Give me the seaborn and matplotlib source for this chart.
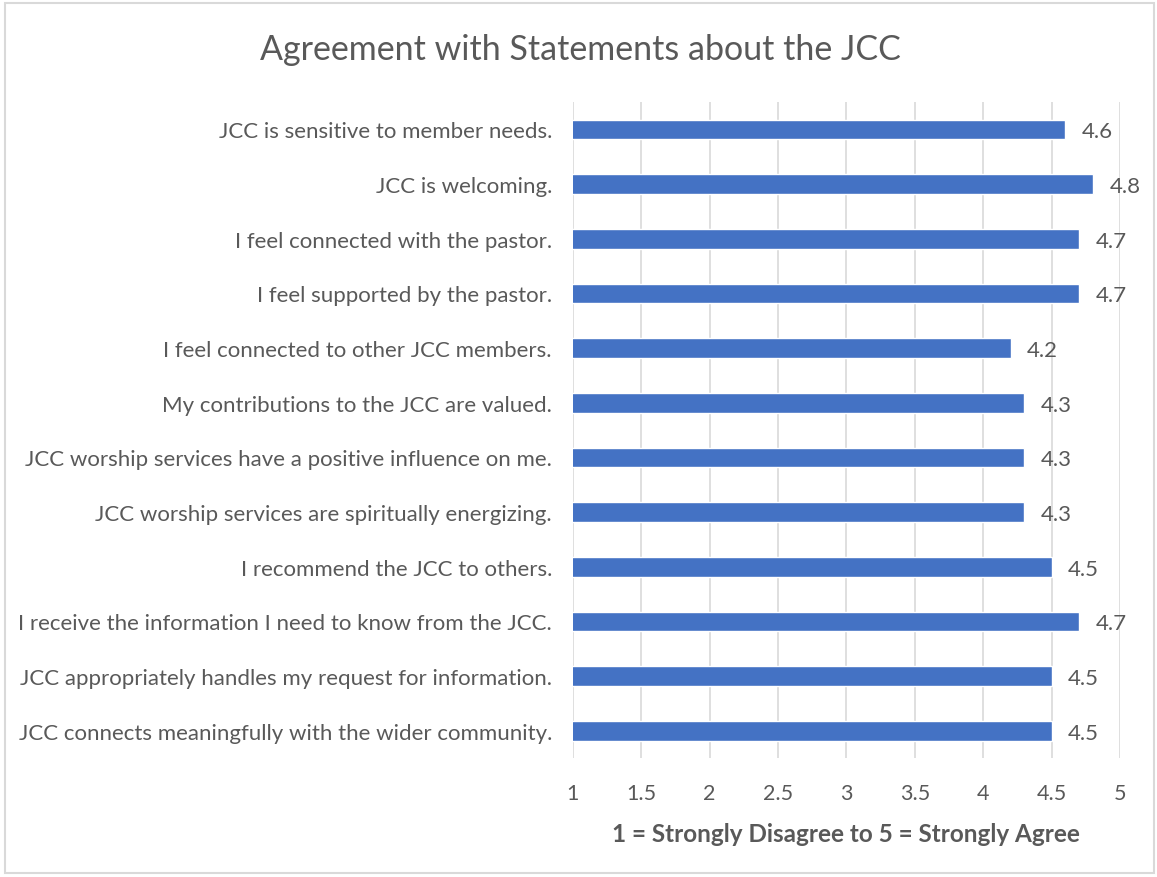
import pandas as pd
import numpy as np
import seaborn as sns
import matplotlib.pyplot as plt
from matplotlib.patches import Rectangle


statements = [
    'JCC is sensitive to member needs.',
    'JCC is welcoming.',
    'I feel connected with the pastor.',
    'I feel supported by the pastor.',
    'I feel connected to other JCC members.',
    'My contributions to the JCC are valued.',
    'JCC worship services have a positive influence on me.',
    'JCC worship services are spiritually energizing.',
    'I recommend the JCC to others.',
    'I receive the information I need to know from the JCC.',
    'JCC appropriately handles my request for information.',
    'JCC connects meaningfully with the wider community.',
]
scores = [4.6, 4.8, 4.7, 4.7, 4.2, 4.3, 4.3, 4.3, 4.5, 4.7, 4.5, 4.5]
x_ticks = [1, 1.5, 2, 2.5, 3, 3.5, 4, 4.5, 5]
x_ticklabels = ['1', '1.5', '2', '2.5', '3', '3.5', '4', '4.5', '5']

data = pd.DataFrame({'statement': statements, 'score': scores})

sns.set_style('white')
plt.rcParams['font.family'] = ['Lato', 'DejaVu Sans']
text_color = '#595959'

fig = plt.figure(figsize=(11.57, 8.78), dpi=100)
ax = fig.add_axes([0.495, 0.1355, 0.473, 0.747])

ax.grid(axis='x', color='#D9D9D9', linewidth=1.2)
ax.set_axisbelow(True)

sns.barplot(data=data, x='score', y='statement', orient='h',
            color='#4472C4', saturation=1, width=0.36, ax=ax)

ax.set_xlim(1, 5)
ax.set_xticks(x_ticks)
ax.set_xticklabels(x_ticklabels)
ax.tick_params(axis='x', length=0, labelsize=15.5, pad=18)
ax.tick_params(axis='y', length=0, labelsize=16, pad=15)
for lab in ax.get_xticklabels() + ax.get_yticklabels():
    lab.set_color(text_color)

sns.despine(ax=ax, left=True, bottom=True)

labels = ax.bar_label(ax.containers[0], fmt='%.1f', padding=12, fontsize=16, color=text_color)
for t in labels:
    t.set_verticalalignment('center_baseline')

ax.set_ylabel('')
ax.set_xlabel('1 = Strongly Disagree to 5 = Strongly Agree', fontsize=17.5,
              fontweight='bold', color=text_color, labelpad=14)

fig.text(0.502, 0.943, 'Agreement with Statements about the JCC', ha='center', va='center',
         fontsize=24.5, color=text_color)

fig.patches.append(Rectangle((0.004, 0.005), 0.993, 0.99, transform=fig.transFigure,
                             fill=False, edgecolor='#D9D9D9', linewidth=1.5))

plt.savefig('out.png', dpi=100)
plt.close()
